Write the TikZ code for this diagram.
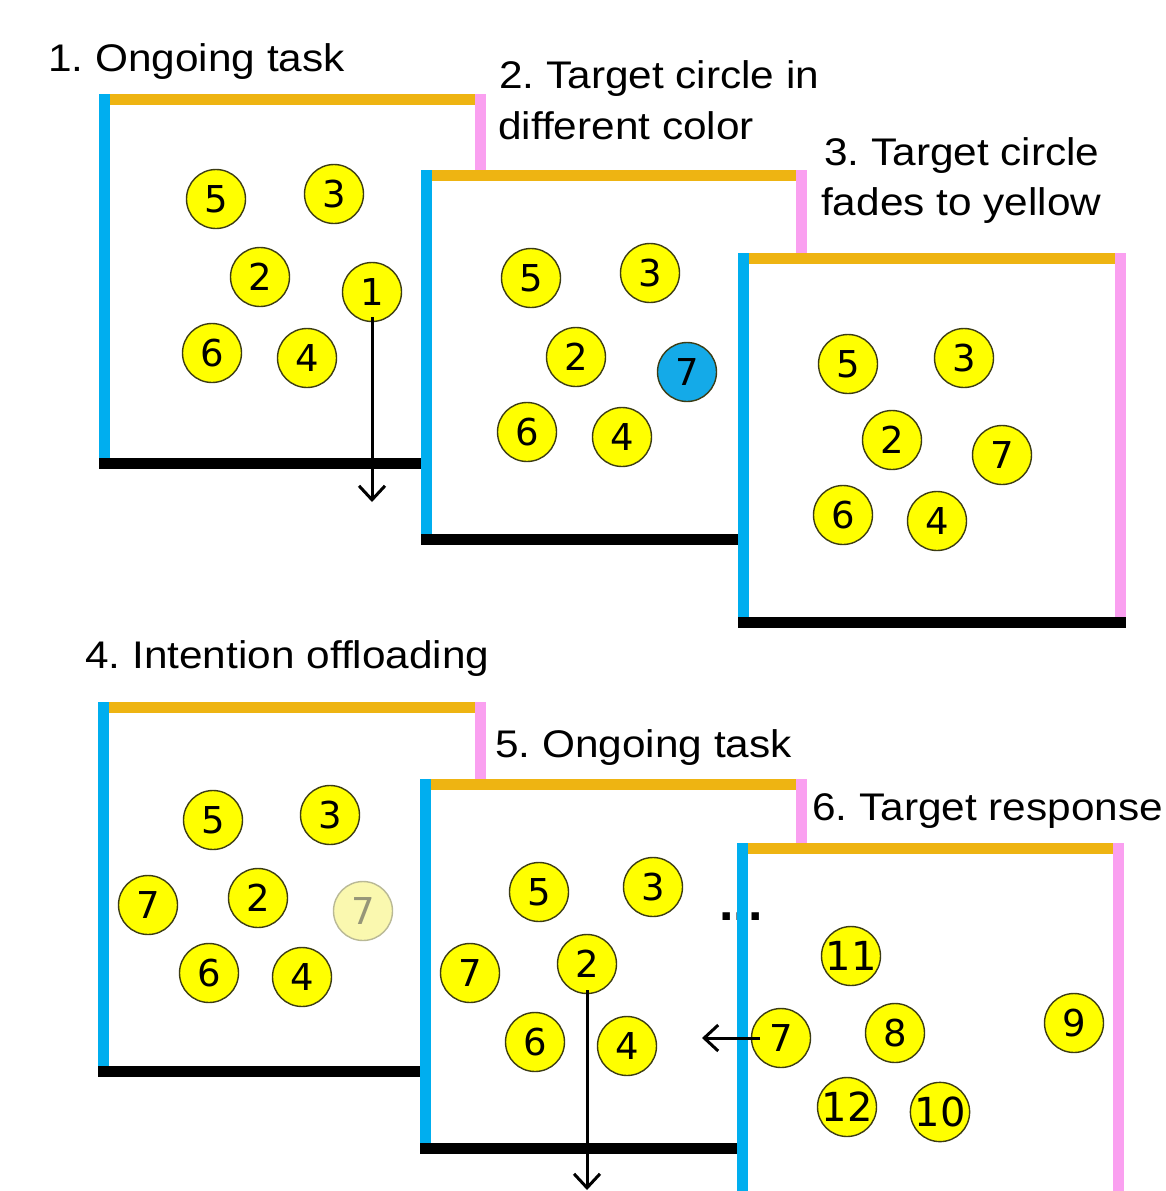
\documentclass[tikz,border=0pt]{standalone}
\usepackage{fontspec}
\setmainfont{Liberation Sans}
\newfontfamily\labelfont[FakeStretch=1.10]{Liberation Sans}
\newfontfamily\digitfont{DejaVu Sans}
\usetikzlibrary{arrows.meta,calc}
\frenchspacing

\definecolor{edgeblue}{RGB}{0,174,239}
\definecolor{edgeorange}{RGB}{238,180,18}
\definecolor{edgepink}{RGB}{250,160,240}
\definecolor{discyellow}{RGB}{255,255,0}
\definecolor{discline}{RGB}{60,60,20}
\definecolor{discblue}{RGB}{20,170,232}
\definecolor{fadefill}{RGB}{250,248,175}
\definecolor{fadeline}{RGB}{185,185,150}
\definecolor{fadetext}{RGB}{150,150,120}

% one screen: left, top, right, bottom (outer edges), frame 11 units thick
\newcommand\screenback[4]{%
  \fill[white] (#1,#2) rectangle (#3,#4);
}
\newcommand\screenframe[4]{%
  \fill[edgeblue] (#1,#2) rectangle ({#1+11},{#4-11});
  \fill[edgeorange] ({#1+11},#2) rectangle ({#3-11},{#2+11});
  \fill[edgepink] ({#3-11},#2) rectangle (#3,{#4-11});
  \fill[black] (#1,{#4-11}) rectangle (#3,#4);
}
\newcommand\drawscreen[4]{\screenback{#1}{#2}{#3}{#4}\screenframe{#1}{#2}{#3}{#4}}

\begin{document}
\begin{tikzpicture}[x=1pt,y=-1pt,
  disc/.style={circle, draw=discline, line width=1.4pt, fill=discyellow,
    minimum size=59pt, inner sep=0pt, font=\digitfont\fontsize{37}{37}\selectfont},
  twodisc/.style={disc, font=\digitfont\fontsize{40}{40}\selectfont},
  bluedisc/.style={disc, fill=discblue},
  fadedisc/.style={disc, fill=fadefill, draw=fadeline, text=fadetext},
  lbl/.style={inner sep=0pt, anchor=base west, font=\labelfont\fontsize{38.5}{46}\selectfont},
  jump/.style={line width=3pt, -{Straight Barb[length=14pt,width=26pt,line width=3pt]}}]

\clip (0,0) rectangle (1166,1191);
\fill[white] (0,0) rectangle (1166,1191);

% ---------- first row ----------
\node[lbl] (l1) at (48,71) {1. Ongoing task};
\drawscreen{99}{94}{486}{469}
\node[disc] (p1c5) at (216,199) {5};
\node[disc] (p1c3) at (334,194) {3};
\node[disc] (p1c2) at (260,277) {2};
\node[disc] (p1c1) at (372,292) {1};
\node[disc] (p1c6) at (212,353) {6};
\node[disc] (p1c4) at (307,358) {4};
\coordinate (p1end) at (372,502);
\draw[jump] ($(p1c1)+(0,25)$) -- (p1end);

\node[lbl] (l2a) at (499,88) {2. Target circle in};
\node[lbl] (l2b) at (498,139) {different color};
\drawscreen{421}{170}{807}{545}
\node[disc] (p2c5) at (531,278) {5};
\node[disc] (p2c3) at (650,273) {3};
\node[disc] (p2c2) at (576,357) {2};
\node[bluedisc] (p2c7) at (687,372) {7};
\node[disc] (p2c6) at (527,432) {6};
\node[disc] (p2c4) at (622,437) {4};

\node[lbl] (l3a) at (824,165) {3. Target circle};
\node[lbl] (l3b) at (821,215) {fades to yellow};
\drawscreen{738}{253}{1126}{628}
\node[disc] (p3c5) at (848,364) {5};
\node[disc] (p3c3) at (964,358) {3};
\node[disc] (p3c2) at (892,440) {2};
\node[disc] (p3c7) at (1002,455) {7};
\node[disc] (p3c6) at (843,515) {6};
\node[disc] (p3c4) at (937,521) {4};

% ---------- second row ----------
\node[lbl] (l4) at (85,668) {4. Intention offloading};
\drawscreen{98}{702}{486}{1077}
\node[disc] (p4c5) at (213,820) {5};
\node[disc] (p4c3) at (330,815) {3};
\node[disc] (p4c7) at (148,905) {7};
\node[disc] (p4c2) at (258,898) {2};
\node[fadedisc] (p4f7) at (363,911) {7};
\node[disc] (p4c6) at (209,973) {6};
\node[disc] (p4c4) at (302,977) {4};

\node[lbl] (l5) at (495,757) {5. Ongoing task};
\drawscreen{420}{779}{807}{1154}
\node[disc] (p5c5) at (539,892) {5};
\node[disc] (p5c3) at (653,887) {3};
\node[disc] (p5c7) at (470,973) {7};
\node[disc] (p5c2) at (587,964) {2};
\node[disc] (p5c6) at (535,1042) {6};
\node[disc] (p5c4) at (627,1046) {4};
\coordinate (p5end) at (587,1190);
\draw[jump] ($(p5c2)+(0,26)$) -- (p5end);

\node[lbl] (l6) at (812,820) {6. Target response};
\screenback{737}{843}{1124}{1220}
% the trailing dots sit partly behind the left edge of the last screen
\node[inner sep=0pt, anchor=base, font=\bfseries\fontsize{52}{52}\selectfont] (more) at (741,920) {...};
\screenframe{737}{843}{1124}{1220}
\node[twodisc] (p6c11) at (851,956) {11};
\node[disc] (p6c8) at (895,1033) {8};
\node[disc] (p6c9) at (1074,1023) {9};
\node[twodisc] (p6c12) at (847,1107) {12};
\node[twodisc] (p6c10) at (940,1112) {10};
\node[disc] (p6c7) at (781,1038) {7};
\coordinate (p6end) at (702,1038);
\draw[jump] ($(p6c7)+(-21,0)$) -- (p6end);

\end{tikzpicture}
\end{document}
